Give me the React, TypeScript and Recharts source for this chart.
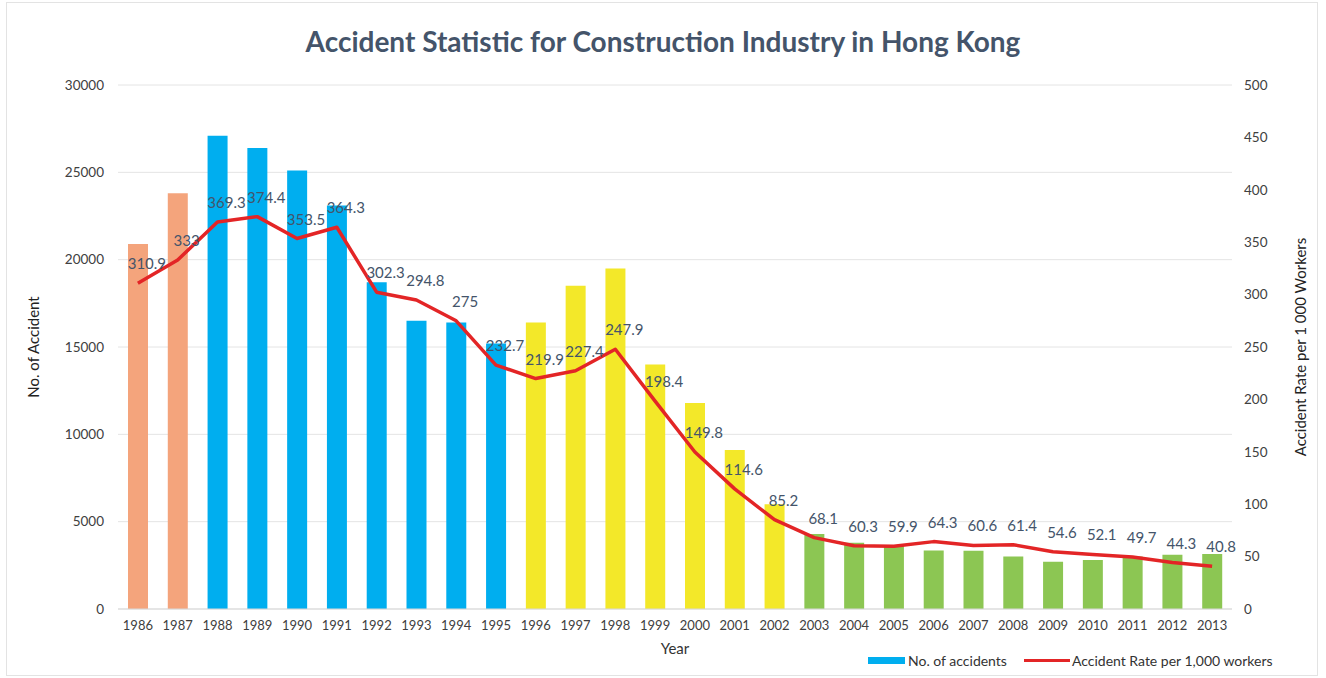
import {
  Bar,
  CartesianGrid,
  Cell,
  ComposedChart,
  LabelList,
  Line,
  XAxis,
  YAxis,
} from "recharts";

const years = [
  "1986", "1987", "1988", "1989", "1990", "1991", "1992", "1993", "1994", "1995",
  "1996", "1997", "1998", "1999", "2000", "2001", "2002", "2003", "2004", "2005",
  "2006", "2007", "2008", "2009", "2010", "2011", "2012", "2013",
];

const accidents = [
  20900, 23800, 27100, 26400, 25100, 23100, 18700, 16500, 16400, 15200,
  16400, 18500, 19500, 14000, 11800, 9100, 6000, 4300, 3800, 3600,
  3350, 3330, 3000, 2700, 2800, 3000, 3100, 3150,
];

const accidentRate = [
  310.9, 333, 369.3, 374.4, 353.5, 364.3, 302.3, 294.8, 275, 232.7,
  219.9, 227.4, 247.9, 198.4, 149.8, 114.6, 85.2, 68.1, 60.3, 59.9,
  64.3, 60.6, 61.4, 54.6, 52.1, 49.7, 44.3, 40.8,
];

const leftTicks = [0, 5000, 10000, 15000, 20000, 25000, 30000];
const rightTicks = [0, 50, 100, 150, 200, 250, 300, 350, 400, 450, 500];

const data = years.map((year, i) => ({
  year,
  accidents: accidents[i],
  rate: accidentRate[i],
}));

function barColor(year: string) {
  const y = Number(year);
  if (y <= 1987) return "#F4A47C";
  if (y <= 1995) return "#00AEEF";
  if (y <= 2002) return "#F3E829";
  return "#8CC653";
}

const FONT = "Lato, 'Open Sans', sans-serif";

function RateLabel(props: any) {
  const { x, y, value } = props;
  return (
    <text
      x={x + 9}
      y={y - 14}
      textAnchor="middle"
      fontSize={15}
      fontFamily={FONT}
      fill="#44546A"
    >
      {value}
    </text>
  );
}

export default function App() {
  return (
    <div
      style={{
        position: "absolute",
        left: 0,
        top: 0,
        width: 1326,
        height: 678,
        background: "#fff",
        fontFamily: FONT,
      }}
    >
      <div
        style={{
          position: "absolute",
          left: 6,
          top: 2,
          width: 1312,
          height: 674,
          border: "1px solid #E3E3E3",
          boxSizing: "border-box",
        }}
      />
      <div
        style={{
          position: "absolute",
          left: 0,
          top: 24,
          width: 1326,
          textAlign: "center",
          fontSize: 28,
          fontWeight: 700,
          color: "#44546A",
        }}
      >
        Accident Statistic for Construction Industry in Hong Kong
      </div>

      <ComposedChart
        width={1326}
        height={678}
        data={data}
        margin={{ top: 85, right: 6, bottom: 16, left: 18 }}
        barCategoryGap={10}
        style={{ position: "absolute", left: 0, top: 0 }}
      >
        <CartesianGrid vertical={false} stroke="#E4E4E4" yAxisId="left" />
        <XAxis
          dataKey="year"
          height={53}
          tickLine={false}
          axisLine={{ stroke: "#D9D9D9" }}
          tick={{ fontSize: 13, fill: "#404040", fontFamily: FONT }}
          tickMargin={6}
          interval={0}
          label={{
            value: "Year",
            position: "insideBottom",
            offset: 8,
            style: { fontSize: 15, fill: "#333", fontFamily: FONT },
          }}
        />
        <YAxis
          yAxisId="left"
          width={100}
          domain={[0, 30000]}
          ticks={leftTicks}
          tickLine={false}
          axisLine={false}
          tickMargin={8}
          tick={{ fontSize: 13.5, fill: "#404040", fontFamily: FONT }}
          label={{
            content: ({ viewBox }: any) => {
              const cx = viewBox.x + 15;
              const cy = viewBox.y + viewBox.height / 2;
              return (
                <text
                  x={cx}
                  y={cy}
                  transform={`rotate(-90, ${cx}, ${cy})`}
                  textAnchor="middle"
                  dominantBaseline="central"
                  fontSize={15}
                  fontFamily={FONT}
                  fill="#222"
                >
                  No. of Accident
                </text>
              );
            },
          }}
        />
        <YAxis
          yAxisId="right"
          orientation="right"
          width={88}
          domain={[0, 500]}
          ticks={rightTicks}
          tickLine={false}
          axisLine={false}
          tickMargin={6}
          tick={{ fontSize: 13.5, fill: "#404040", fontFamily: FONT, textAnchor: "start" }}
          label={{
            content: ({ viewBox }: any) => {
              const cx = viewBox.x + 68;
              const cy = viewBox.y + viewBox.height / 2;
              return (
                <text
                  x={cx}
                  y={cy}
                  transform={`rotate(-90, ${cx}, ${cy})`}
                  textAnchor="middle"
                  dominantBaseline="central"
                  fontSize={15}
                  fontFamily={FONT}
                  fill="#222"
                >
                  Accident Rate per 1 000 Workers
                </text>
              );
            },
          }}
        />
        <Bar
          yAxisId="left"
          dataKey="accidents"
          barSize={20}
          isAnimationActive={false}
        >
          {data.map((d) => (
            <Cell key={d.year} fill={barColor(d.year)} />
          ))}
        </Bar>
        <Line
          yAxisId="right"
          type="linear"
          dataKey="rate"
          stroke="#E32526"
          strokeWidth={3.5}
          strokeLinejoin="round"
          dot={false}
          isAnimationActive={false}
        >
          <LabelList dataKey="rate" content={<RateLabel />} />
        </Line>
      </ComposedChart>

      <div
        style={{
          position: "absolute",
          left: 868,
          top: 652,
          display: "flex",
          alignItems: "center",
          fontSize: 14,
          color: "#333",
        }}
      >
        <span
          style={{
            display: "inline-block",
            width: 37,
            height: 7,
            background: "#00AEEF",
            marginRight: 3,
          }}
        />
        <span style={{ marginRight: 17 }}>No. of accidents</span>
        <span
          style={{
            display: "inline-block",
            width: 46,
            height: 3,
            background: "#E32526",
            marginRight: 2,
          }}
        />
        <span>Accident Rate per 1,000 workers</span>
      </div>
    </div>
  );
}
